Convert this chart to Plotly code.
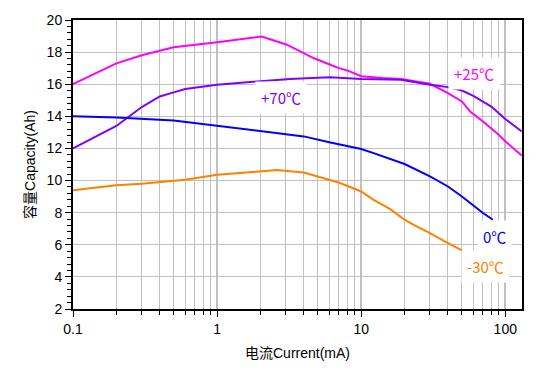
import math
import plotly.graph_objects as go

# ---- data ----
cur_25 = [0.1, 0.2, 0.3, 0.5, 1, 1.23, 2.04, 3.05, 4.67, 6.1, 7, 8, 10, 14, 18.9, 30, 40, 50, 57, 70, 90, 100, 130]
cap_25 = [16.0, 17.3, 17.8, 18.3, 18.62, 18.72, 18.97, 18.46, 17.63, 17.21, 17.0, 16.86, 16.5, 16.38, 16.32, 16.03, 15.45, 14.93, 14.3, 13.68, 12.85, 12.44, 11.56]

cur_70 = [0.1, 0.2, 0.3, 0.4, 0.5, 0.6, 1, 2, 3.2, 5, 6.1, 10, 18.9, 30, 40, 50, 60, 80, 100, 130]
cap_70 = [12.0, 13.4, 14.58, 15.24, 15.49, 15.7, 15.97, 16.21, 16.33, 16.4, 16.43, 16.33, 16.28, 15.97, 15.82, 15.61, 15.28, 14.61, 13.83, 13.06]

cur_0 = [0.1, 0.2, 0.5, 1, 2, 4, 6, 7.14, 10, 12.2, 15.9, 20, 30, 40, 50, 60, 70, 82]
cap_0 = [14.0, 13.93, 13.74, 13.41, 13.1, 12.75, 12.38, 12.23, 11.96, 11.71, 11.34, 11.03, 10.26, 9.63, 9.01, 8.43, 7.98, 7.56]

cur_m30 = [0.1, 0.2, 0.3, 0.6, 1, 2, 2.6, 4, 6, 7.14, 10, 12.2, 15.9, 20, 23, 30, 40, 50]
cap_m30 = [9.4, 9.7, 9.8, 10.05, 10.36, 10.6, 10.65, 10.5, 10.05, 9.85, 9.32, 8.8, 8.22, 7.56, 7.25, 6.73, 6.11, 5.65]

series_names = ["+25℃", "+70℃", "0℃", "-30℃"]
series_colors = ["#ff00ff", "#8000ff", "#0000ff", "#ff8000"]
label_x = [61, 2.78, 84, 72.6]
label_y = [16.69, 15.18, 6.52, 4.62]

x_title = "电流Current(mA)"
y_title = "容量Capacity(Ah)"

xs = [cur_25, cur_70, cur_0, cur_m30]
ys = [cap_25, cap_70, cap_0, cap_m30]

fig = go.Figure()
for x, y, name, col in zip(xs, ys, series_names, series_colors):
    fig.add_trace(go.Scatter(x=x, y=y, mode="lines", name=name,
                             line=dict(color=col, width=2), showlegend=False))

for name, col, lx, ly in zip(series_names, series_colors, label_x, label_y):
    fig.add_annotation(x=math.log10(lx), y=ly, xref="x", yref="y", text=name,
                       showarrow=False, bgcolor="white", borderpad=5,
                       font=dict(family="Noto Sans CJK SC", size=15, color=col))

font_main = "Liberation Sans, Noto Sans CJK SC, sans-serif"

fig.update_xaxes(type="log", range=[-1, math.log10(130.6)], dtick=1,
                 showline=True, linecolor="black", linewidth=2, mirror=True,
                 ticks="outside", ticklen=6, tickwidth=1, tickcolor="black",
                 showgrid=True, gridcolor="#c0c0c0", gridwidth=2,
                 minor=dict(ticks="outside", ticklen=4, tickcolor="black",
                            showgrid=True, gridcolor="#c0c0c0", gridwidth=1),
                 tickfont=dict(family=font_main, size=14, color="black"),
                 title=dict(text=x_title, standoff=12,
                            font=dict(family=font_main, size=14, color="black")),
                 zeroline=False, automargin=False)
fig.update_yaxes(range=[2, 20], dtick=2, tick0=0,
                 showline=True, linecolor="black", linewidth=2, mirror=True,
                 ticks="outside", ticklen=6, tickwidth=1, tickcolor="black",
                 showgrid=True, gridcolor="#c0c0c0", gridwidth=1,
                 minor=dict(dtick=0.4, ticks="outside", ticklen=4, tickcolor="black",
                            showgrid=False),
                 tickfont=dict(family=font_main, size=14, color="black"),
                 title=dict(text=y_title, standoff=8,
                            font=dict(family=font_main, size=14, color="black")),
                 zeroline=False, automargin=False)

# page body adds an 8px offset; the figure is sized so the plot area lands where the reference has it
fig.update_layout(width=539, height=363,
                  margin=dict(l=65, r=25, t=12, b=62),
                  paper_bgcolor="white", plot_bgcolor="white")

fig.write_html("out.html")
